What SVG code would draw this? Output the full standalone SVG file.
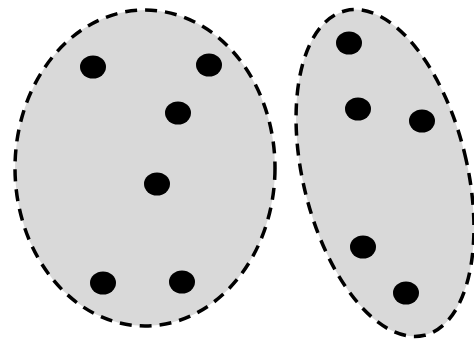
<svg xmlns="http://www.w3.org/2000/svg" width="474" height="343" viewBox="0 0 474 343">
<style>
.set{fill:#d9d9d9;stroke:#000;stroke-width:3.5;stroke-dasharray:12 8}
.dot{fill:#000}
</style>
<rect width="474" height="343" fill="#fff"/>
<g id="setA">
<ellipse class="set" cx="145" cy="168" rx="130" ry="158"/>
<ellipse class="dot" cx="93" cy="67" rx="13" ry="11.5"/>
<ellipse class="dot" cx="209" cy="65" rx="13" ry="11.5"/>
<ellipse class="dot" cx="178" cy="113" rx="13" ry="11.5"/>
<ellipse class="dot" cx="157" cy="184" rx="13" ry="11.5"/>
<ellipse class="dot" cx="103" cy="283" rx="13" ry="11.5"/>
<ellipse class="dot" cx="182" cy="282" rx="13" ry="11.5"/>
</g>
<g id="setB">
<ellipse class="set" cx="385" cy="173" rx="82" ry="167" transform="rotate(-13.7 385 173)"/>
<ellipse class="dot" cx="349" cy="43" rx="13" ry="11.5"/>
<ellipse class="dot" cx="358" cy="109" rx="13" ry="11.5"/>
<ellipse class="dot" cx="422" cy="121" rx="13" ry="11.5"/>
<ellipse class="dot" cx="363" cy="247" rx="13" ry="11.5"/>
<ellipse class="dot" cx="406" cy="293" rx="13" ry="11.5"/>
</g>
<g id="connectors"></g>
</svg>
